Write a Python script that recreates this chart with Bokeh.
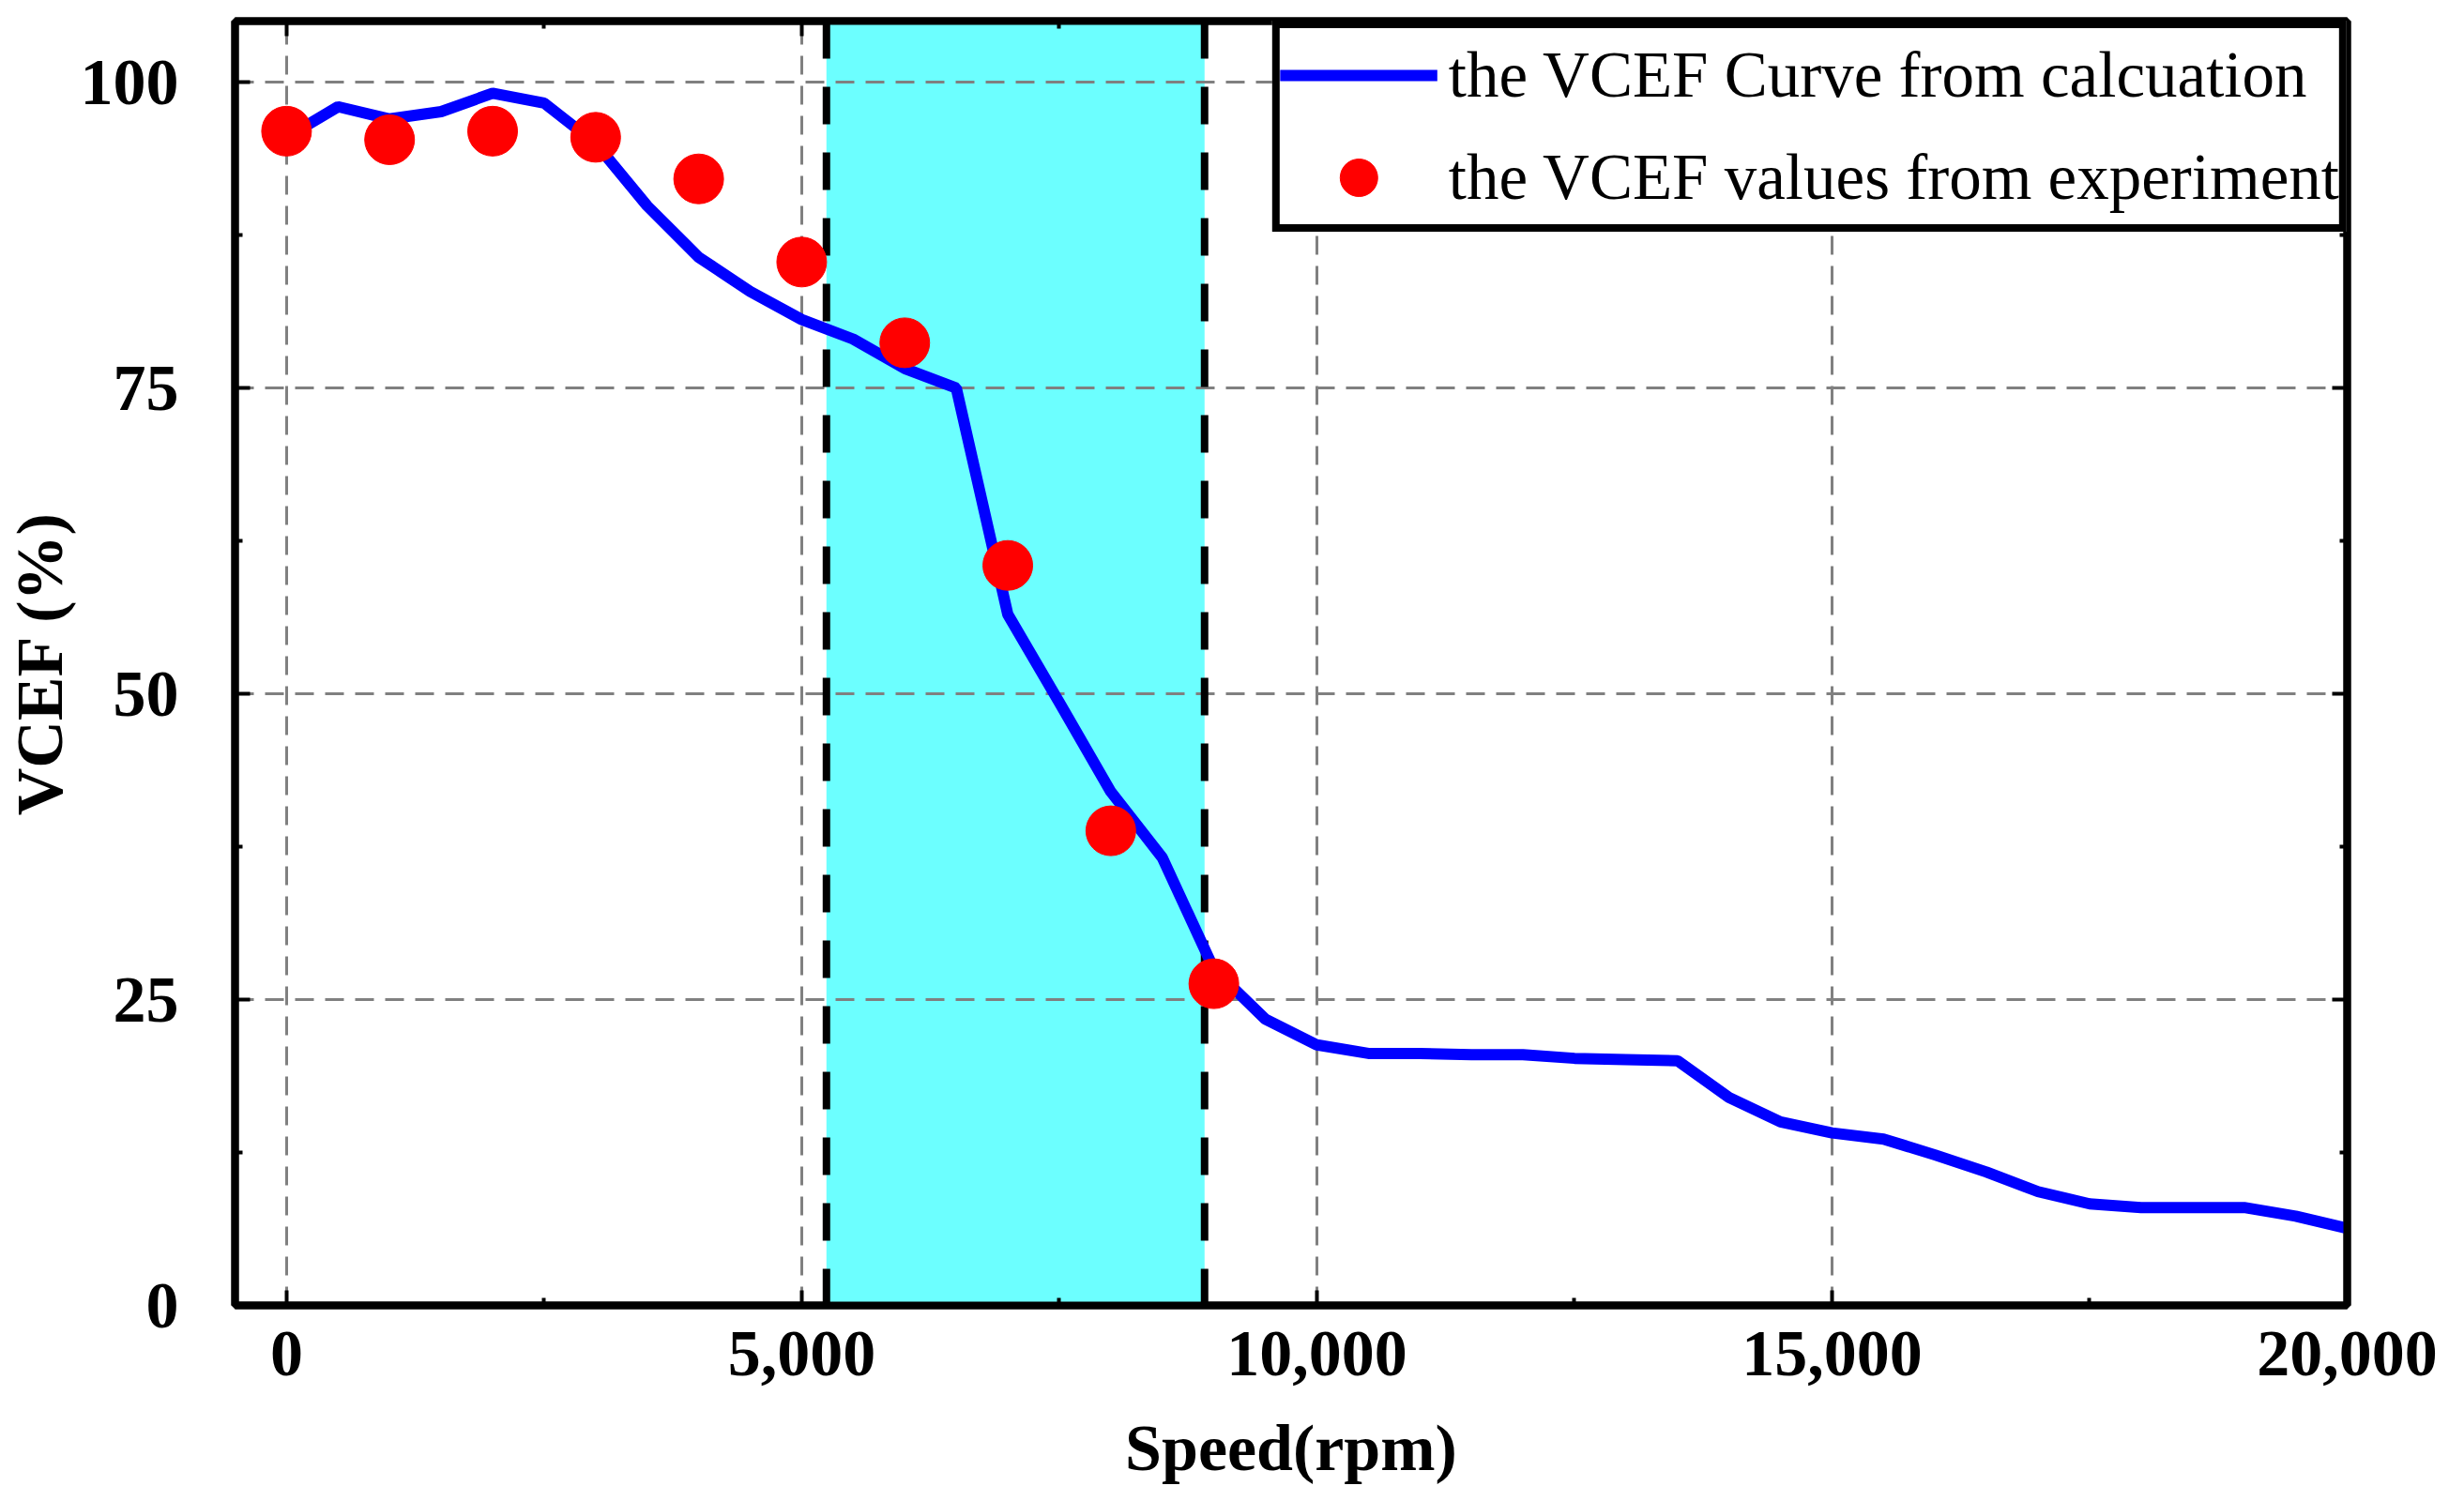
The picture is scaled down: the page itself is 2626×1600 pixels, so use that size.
from bokeh.plotting import figure
from bokeh.models import (Range1d, FixedTicker, NumeralTickFormatter, LinearAxis,
                          BoxAnnotation, Span, Legend, LegendItem, CustomJSTickFormatter)
from bokeh.embed import file_html
from bokeh.resources import INLINE

# ---- data ----
curve_speed = [0, 500, 1000, 1500, 2000, 2500, 3000, 3500, 4000, 4500, 5000,
               5500, 6000, 6500, 7000, 7500, 8000, 8500, 9000, 9500, 10000,
               10500, 11000, 11500, 12000, 12500, 13000, 13500, 14000, 14500, 15000,
               15500, 16000, 16500, 17000, 17500, 18000, 18500, 19000, 19500, 20000]
curve_vcef = [95.5, 98.0, 97.0, 97.6, 99.1, 98.3, 95.0, 89.9, 85.7, 82.9, 80.6,
              79.0, 76.6, 75.0, 56.5, 49.3, 42.0, 36.6, 27.5, 23.4, 21.3,
              20.6, 20.6, 20.5, 20.5, 20.2, 20.1, 20.0, 17.0, 15.0, 14.1,
              13.6, 12.3, 10.9, 9.3, 8.3, 8.0, 8.0, 8.0, 7.3, 6.3]

exp_speed = [0, 1000, 2000, 3000, 4000, 5000, 6000, 7000, 8000, 9000]
exp_vcef = [96.0, 95.3, 96.0, 95.5, 92.1, 85.3, 78.7, 60.5, 38.8, 26.3]

band_speed = [5240, 8910]

x_ticks = [0, 5000, 10000, 15000, 20000]
x_minor = [2500, 7500, 12500, 17500]
y_ticks = [0, 25, 50, 75, 100]
y_minor = [12.5, 37.5, 62.5, 87.5]

FONT = "Liberation Serif"
FS = "70px"

p = figure(width=2610, height=1584, output_backend="svg", toolbar_location=None,
           x_range=Range1d(-500, 20000), y_range=Range1d(0, 105),
           min_border_left=241, min_border_top=22, min_border_right=109,
           min_border_bottom=193)
p.background_fill_color = "white"
p.border_fill_color = "white"
p.outline_line_color = "black"
p.outline_line_width = 8

# shaded band and its dashed boundaries
band = BoxAnnotation(left=band_speed[0], right=band_speed[1], fill_color="#6CFFFF",
                     fill_alpha=1.0, line_alpha=0, level="image")
p.add_layout(band)
for loc in band_speed:
    p.add_layout(Span(location=loc, dimension="height", line_color="black",
                      line_width=8, line_dash="40 30", level="underlay"))

r_line = p.line(curve_speed, curve_vcef, line_color="#0000FF", line_width=12)
r_pts = p.scatter(exp_speed, exp_vcef, size=53, fill_color="#FF0000",
                  line_color="#FF0000")

# axes styling
xa = p.xaxis[0]
ya = p.yaxis[0]
xa.ticker = FixedTicker(ticks=x_ticks, minor_ticks=x_minor)
ya.ticker = FixedTicker(ticks=y_ticks, minor_ticks=y_minor)
xa.formatter = NumeralTickFormatter(format="0,0")
for ax in (xa, ya):
    ax.axis_line_width = 8
    ax.axis_line_color = "black"
    ax.major_tick_in = 16
    ax.major_tick_out = 0
    ax.minor_tick_in = 8
    ax.minor_tick_out = 0
    ax.major_tick_line_width = 4
    ax.minor_tick_line_width = 4
    ax.major_label_text_font = FONT
    ax.major_label_text_font_style = "bold"
    ax.major_label_text_font_size = FS
    ax.major_label_text_color = "black"
    ax.axis_label_text_font = FONT
    ax.axis_label_text_font_style = "bold"
    ax.axis_label_text_font_size = FS
    ax.axis_label_text_color = "black"
xa.axis_label = "Speed(rpm)"
ya.axis_label = "VCEF (%)"
xa.major_label_standoff = 28
xa.axis_label_standoff = 36
ya.major_label_standoff = 60
ya.axis_label_standoff = 2

# mirrored axes (ticks only)
blank = CustomJSTickFormatter(code="return ''")
top = LinearAxis(ticker=FixedTicker(ticks=x_ticks, minor_ticks=x_minor), formatter=blank)
right = LinearAxis(ticker=FixedTicker(ticks=y_ticks, minor_ticks=y_minor), formatter=blank)
for ax in (top, right):
    ax.axis_line_width = 8
    ax.major_tick_in = 16
    ax.major_tick_out = 0
    ax.minor_tick_in = 8
    ax.minor_tick_out = 0
    ax.major_tick_line_width = 4
    ax.minor_tick_line_width = 4
    ax.major_label_standoff = 0
p.add_layout(top, "above")
p.add_layout(right, "right")

# grid
for g, t in ((p.xgrid, x_ticks), (p.ygrid, y_ticks)):
    g.ticker = FixedTicker(ticks=t)
    g.grid_line_color = "#808080"
    g.grid_line_width = 3
    g.grid_line_dash = "20 12"

legend = Legend(items=[LegendItem(label="the VCEF Curve from calcuation", renderers=[r_line]),
                       LegendItem(label="the VCEF values from experiment", renderers=[r_pts])],
                location="top_right")
legend.margin = 0
legend.padding = 0
legend.spacing = 9
legend.glyph_width = 168
legend.glyph_height = 100
legend.label_height = 100
legend.label_standoff = 12
legend.label_text_font = FONT
legend.label_text_font_size = "69px"
legend.label_text_color = "black"
legend.border_line_color = "black"
legend.border_line_alpha = 1.0
legend.border_line_width = 8
legend.background_fill_color = "white"
legend.background_fill_alpha = 1.0
p.add_layout(legend, "center")

open("out.html", "w").write(file_html(p, INLINE))
